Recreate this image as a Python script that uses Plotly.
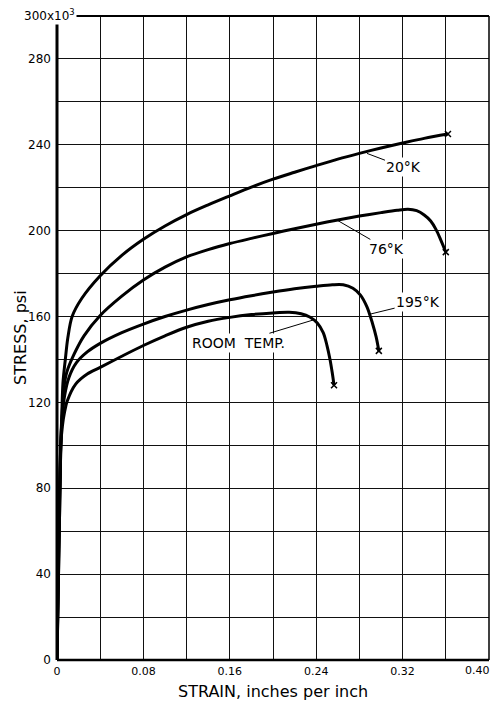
import plotly.graph_objects as go

# ---- data (strain in in/in, stress in ksi) ----
strain_20K = [0, 0.0035, 0.0045, 0.0055, 0.0077, 0.010, 0.014, 0.023, 0.04, 0.06, 0.08, 0.10, 0.12,
              0.14, 0.16, 0.18, 0.20, 0.22, 0.24, 0.26, 0.28, 0.30, 0.32, 0.34, 0.362]
stress_20K = [0, 100, 115, 129, 140, 150, 160, 168.5, 179, 188.5, 196, 202.2, 207.5,
              212, 216.2, 220.3, 224, 227.2, 230.3, 233.3, 236, 238.5, 240.8, 243, 245]

strain_76K = [0, 0.0035, 0.0048, 0.0062, 0.009, 0.0154, 0.025, 0.04, 0.06, 0.08, 0.10, 0.12, 0.14,
              0.16, 0.18, 0.20, 0.22, 0.24, 0.26, 0.28, 0.30, 0.315, 0.325, 0.333, 0.34, 0.346, 0.351, 0.3555, 0.36]
stress_76K = [0, 100, 115, 126, 134, 142, 151, 160.5, 169.5, 177, 183, 187.8, 191.2,
              194, 196.4, 198.7, 200.9, 203, 205, 206.8, 208.4, 209.5, 210, 209.3, 207.3, 204.5, 200.5, 195.5, 190]

strain_195K = [0, 0.0035, 0.005, 0.007, 0.011, 0.018, 0.028, 0.04, 0.06, 0.08, 0.10, 0.12, 0.14, 0.16,
               0.18, 0.20, 0.22, 0.24, 0.255, 0.265, 0.274, 0.281, 0.287, 0.292, 0.2955, 0.298]
stress_195K = [0, 100, 114, 123, 131.5, 138.5, 143.5, 147.5, 152.5, 156.5, 160, 163, 165.6, 167.8,
               169.7, 171.4, 172.9, 174.1, 174.8, 174.8, 173.2, 170, 164.5, 157, 150.5, 144]

strain_RT = [0, 0.0035, 0.005, 0.007, 0.0094, 0.0173, 0.028, 0.04, 0.06, 0.08, 0.10, 0.12, 0.14, 0.16,
             0.18, 0.20, 0.215, 0.226, 0.234, 0.241, 0.2465, 0.25, 0.2528, 0.2548, 0.2565]
stress_RT = [0, 100, 109, 115.5, 120.5, 128.5, 133.2, 136.3, 141.5, 146.5, 151, 155, 157.8, 159.6,
             160.9, 161.7, 162, 161.3, 159.8, 157, 152.5, 146.5, 140, 134, 128]

series_names = ["20°K", "76°K", "195°K", "ROOM&nbsp;&nbsp;TEMP."]

x_tick_vals = [0, 0.08, 0.16, 0.24, 0.32]
x_tick_text = ["0", "0.08", "0.16", "0.24", "0.32"]
x_end_label = "0.40"
x_minor_vals = [0.04, 0.12, 0.20, 0.28, 0.36]
y_tick_vals = [0, 40, 80, 120, 160, 200, 240, 280]
y_tick_text = ["0", "40", "80", "120", "160", "200", "240", "280"]
y_end_label = "300x10<sup>3</sup>"
y_minor_vals = [20, 60, 100, 140, 180, 220, 260]

FONT = "DejaVu Sans"
fig = go.Figure()

curves = [(strain_20K, stress_20K), (strain_76K, stress_76K), (strain_195K, stress_195K), (strain_RT, stress_RT)]
for (xs, ys) in curves:
    fig.add_trace(go.Scatter(x=xs, y=ys, mode="lines",
                             line=dict(color="black", width=3, shape="spline", smoothing=0.9),
                             showlegend=False, hoverinfo="skip"))
    fig.add_trace(go.Scatter(x=[xs[-1]], y=[ys[-1]], mode="markers",
                             marker=dict(symbol="x-thin", size=6, line=dict(color="black", width=1.5)),
                             showlegend=False, hoverinfo="skip"))

ann = []
# curve labels with leader lines
labels = [
    (series_names[0], 0.287, 236.0, 37, 14),
    (series_names[1], 0.259, 205.0, 50, 29),
    (series_names[2], 0.289, 161.0, 49, -12),
    (series_names[3], 0.238, 158.5, -76, 23),
]
for text, x, y, ax, ay in labels:
    ann.append(dict(x=x, y=y, xref="x", yref="y", text=text, showarrow=True, arrowhead=0,
                    arrowwidth=1, arrowcolor="black", ax=ax, ay=ay, bgcolor="white",
                    font=dict(family=FONT, size=14, color="black"), borderpad=1))

# end-of-axis labels
ann.append(dict(x=0, y=1, xref="paper", yref="paper", text=y_end_label, showarrow=False,
                xanchor="right", yanchor="middle", xshift=20, yshift=1, bgcolor="white",
                font=dict(family=FONT, size=12, color="black")))
ann.append(dict(x=1, y=0, xref="paper", yref="paper", text=x_end_label, showarrow=False,
                xanchor="right", yanchor="top", xshift=3, yshift=-2,
                font=dict(family=FONT, size=11, color="black")))
# axis titles
ann.append(dict(x=0.5, y=0, xref="paper", yref="paper", text="STRAIN, inches per inch", showarrow=False,
                xanchor="center", yanchor="middle", yshift=-31,
                font=dict(family=FONT, size=16, color="black")))
ann.append(dict(x=0, y=0.5, xref="paper", yref="paper", text="STRESS, psi", showarrow=False, textangle=-90,
                xanchor="center", yanchor="middle", xshift=-37,
                font=dict(family=FONT, size=16, color="black")))

shapes = [
    dict(type="line", xref="paper", yref="paper", x0=0, x1=0, y0=0, y1=1, line=dict(color="black", width=3)),
    dict(type="line", xref="paper", yref="paper", x0=0, x1=1, y0=0, y1=0, line=dict(color="black", width=2.5)),
    dict(type="line", xref="paper", yref="paper", x0=0, x1=1, y0=1, y1=1, line=dict(color="black", width=2)),
    dict(type="line", xref="paper", yref="paper", x0=1, x1=1, y0=0, y1=1, line=dict(color="black", width=1.5)),
]

grid_style = dict(showgrid=True, gridcolor="#111", gridwidth=1.3)

fig.update_layout(
    width=498, height=702,
    margin=dict(l=57, r=9, t=16, b=42),
    paper_bgcolor="white", plot_bgcolor="white",
    annotations=ann, shapes=shapes,
    font=dict(family=FONT, color="black"),
    xaxis=dict(range=[0, 0.40], tickmode="array", tickvals=x_tick_vals, ticktext=x_tick_text,
               zeroline=False, showline=False, ticks="", ticklabelstandoff=3,
               minor=dict(tickmode="array", tickvals=x_minor_vals, ticks="", **grid_style),
               tickfont=dict(family=FONT, size=11, color="black"), **grid_style),
    yaxis=dict(range=[0, 300], tickmode="array", tickvals=y_tick_vals, ticktext=y_tick_text,
               zeroline=False, showline=False, ticks="", ticklabelstandoff=5,
               minor=dict(tickmode="array", tickvals=y_minor_vals, ticks="", **grid_style),
               tickfont=dict(family=FONT, size=12, color="black"), **grid_style),
)

fig.write_html("out.html", config={"displayModeBar": False},
               post_script="document.body.style.margin='0';document.body.style.overflow='hidden';")
